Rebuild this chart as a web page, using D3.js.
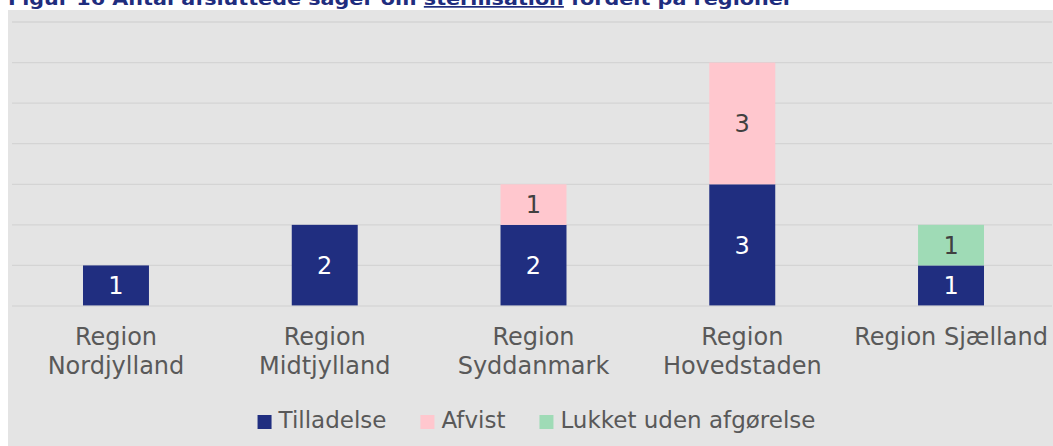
<!DOCTYPE html>
<html>
<head>
<meta charset="utf-8">
<script src="https://cdn.jsdelivr.net/npm/d3@7"></script>
<style>
  html, body { margin: 0; padding: 0; background: #ffffff; }
  svg { display: block; }
  text { font-family: "DejaVu Sans", Verdana, sans-serif; }
</style>
</head>
<body>
<svg id="chart" width="1053" height="446"></svg>
<script>
// ---- data ----
const categories = [
  ["Region", "Nordjylland"],
  ["Region", "Midtjylland"],
  ["Region", "Syddanmark"],
  ["Region", "Hovedstaden"],
  ["Region Sjælland"]
];
const seriesNames = ["Tilladelse", "Afvist", "Lukket uden afgørelse"];
const tilladelse = [1, 2, 2, 3, 1];
const afvist = [0, 0, 1, 3, 0];
const lukket = [0, 0, 0, 0, 1];
const yTicks = [0, 1, 2, 3, 4, 5, 6, 7];
const titleParts = ["Figur 16 Antal afsluttede sager om ", "sterilisation", " fordelt på regioner"];

// ---- styles ----
const colors = ["#202E80", "#FFC7CE", "#9FDBB6"];
const labelColors = ["#ffffff", "#404040", "#404040"];
const textColor = "#595959";

const svg = d3.select("#chart");
const W = 1053, H = 446;

svg.append("rect").attr("x", 0).attr("y", 0).attr("width", W).attr("height", H).attr("fill", "#ffffff");
svg.append("rect").attr("x", 8).attr("y", 10).attr("width", W - 8).attr("height", H - 10).attr("fill", "#E4E4E4");

// title (cut off at the top edge, as in the reference)
const title = svg.append("text")
  .attr("x", 8).attr("y", 5)
  .attr("font-size", 17).attr("font-weight", "bold")
  .attr("fill", "#1F2D7E");
titleParts.forEach((p, i) => {
  const t = title.append("tspan").text(p);
  if (i === 1) t.attr("text-decoration", "underline");
});
title.attr("textLength", 785).attr("lengthAdjust", "spacingAndGlyphs");

const keys = categories.map(c => c.join(" "));
const x = d3.scaleBand().domain(keys).range([11.6, 1055.4]).paddingInner(0.684).paddingOuter(0.342);
const y = d3.scaleLinear().domain([0, 7]).range([306, 22]);

// gridlines
svg.append("g").selectAll("line").data(yTicks.filter(t => t > 0)).join("line")
  .attr("x1", 12).attr("x2", 1052)
  .attr("y1", d => y(d)).attr("y2", d => y(d))
  .attr("stroke", "#D4D4D4").attr("stroke-width", 1.3);

// stacked data
const rows = keys.map((k, i) => ({ key: k, s0: tilladelse[i], s1: afvist[i], s2: lukket[i] }));
const stack = d3.stack().keys(["s0", "s1", "s2"]);
const stacked = stack(rows);

stacked.forEach((layer, li) => {
  const g = svg.append("g");
  layer.forEach(seg => {
    const v = seg[1] - seg[0];
    if (v <= 0) return;
    const k = seg.data.key;
    g.append("rect")
      .attr("x", x(k)).attr("width", x.bandwidth())
      .attr("y", y(seg[1])).attr("height", y(seg[0]) - y(seg[1]))
      .attr("fill", colors[li]);
    g.append("text")
      .attr("x", x(k) + x.bandwidth() / 2)
      .attr("y", (y(seg[0]) + y(seg[1])) / 2)
      .attr("dy", "0.36em")
      .attr("text-anchor", "middle")
      .attr("font-size", 24)
      .attr("fill", labelColors[li])
      .text(v);
  });
});

// axis baseline
svg.append("line").attr("x1", 12).attr("x2", 1052).attr("y1", y(0)).attr("y2", y(0))
  .attr("stroke", "#D4D4D4").attr("stroke-width", 1.3).attr("stroke-opacity", 0.8);

// x labels
const xAxis = d3.axisBottom(x).tickSize(0).tickFormat("");
const ax = svg.append("g").attr("transform", `translate(0,${y(0)})`).call(xAxis);
ax.select(".domain").remove();
ax.selectAll(".tick").each(function(d, i) {
  const lines = categories[i];
  const t = d3.select(this).append("text")
    .attr("text-anchor", "middle").attr("font-size", 24).attr("fill", textColor);
  lines.forEach((ln, j) => {
    t.append("tspan").attr("x", 0).attr("y", 39 + j * 29).text(ln);
  });
});

// legend
const legend = svg.append("g");
const items = [];
let cx = 0;
const gap = 34;
seriesNames.forEach((name, i) => {
  const g = legend.append("g");
  g.append("rect").attr("x", 0).attr("y", -13).attr("width", 14).attr("height", 14).attr("fill", colors[i]);
  const t = g.append("text").attr("x", 21).attr("y", 0).attr("font-size", 23).attr("fill", textColor).text(name);
  const w = 21 + t.node().getComputedTextLength();
  items.push({ g, x: cx });
  cx += w + gap;
});
const totalW = cx - gap;
const startX = 536.5 - totalW / 2;
items.forEach(it => it.g.attr("transform", `translate(${startX + it.x},428)`));
</script>
</body>
</html>
